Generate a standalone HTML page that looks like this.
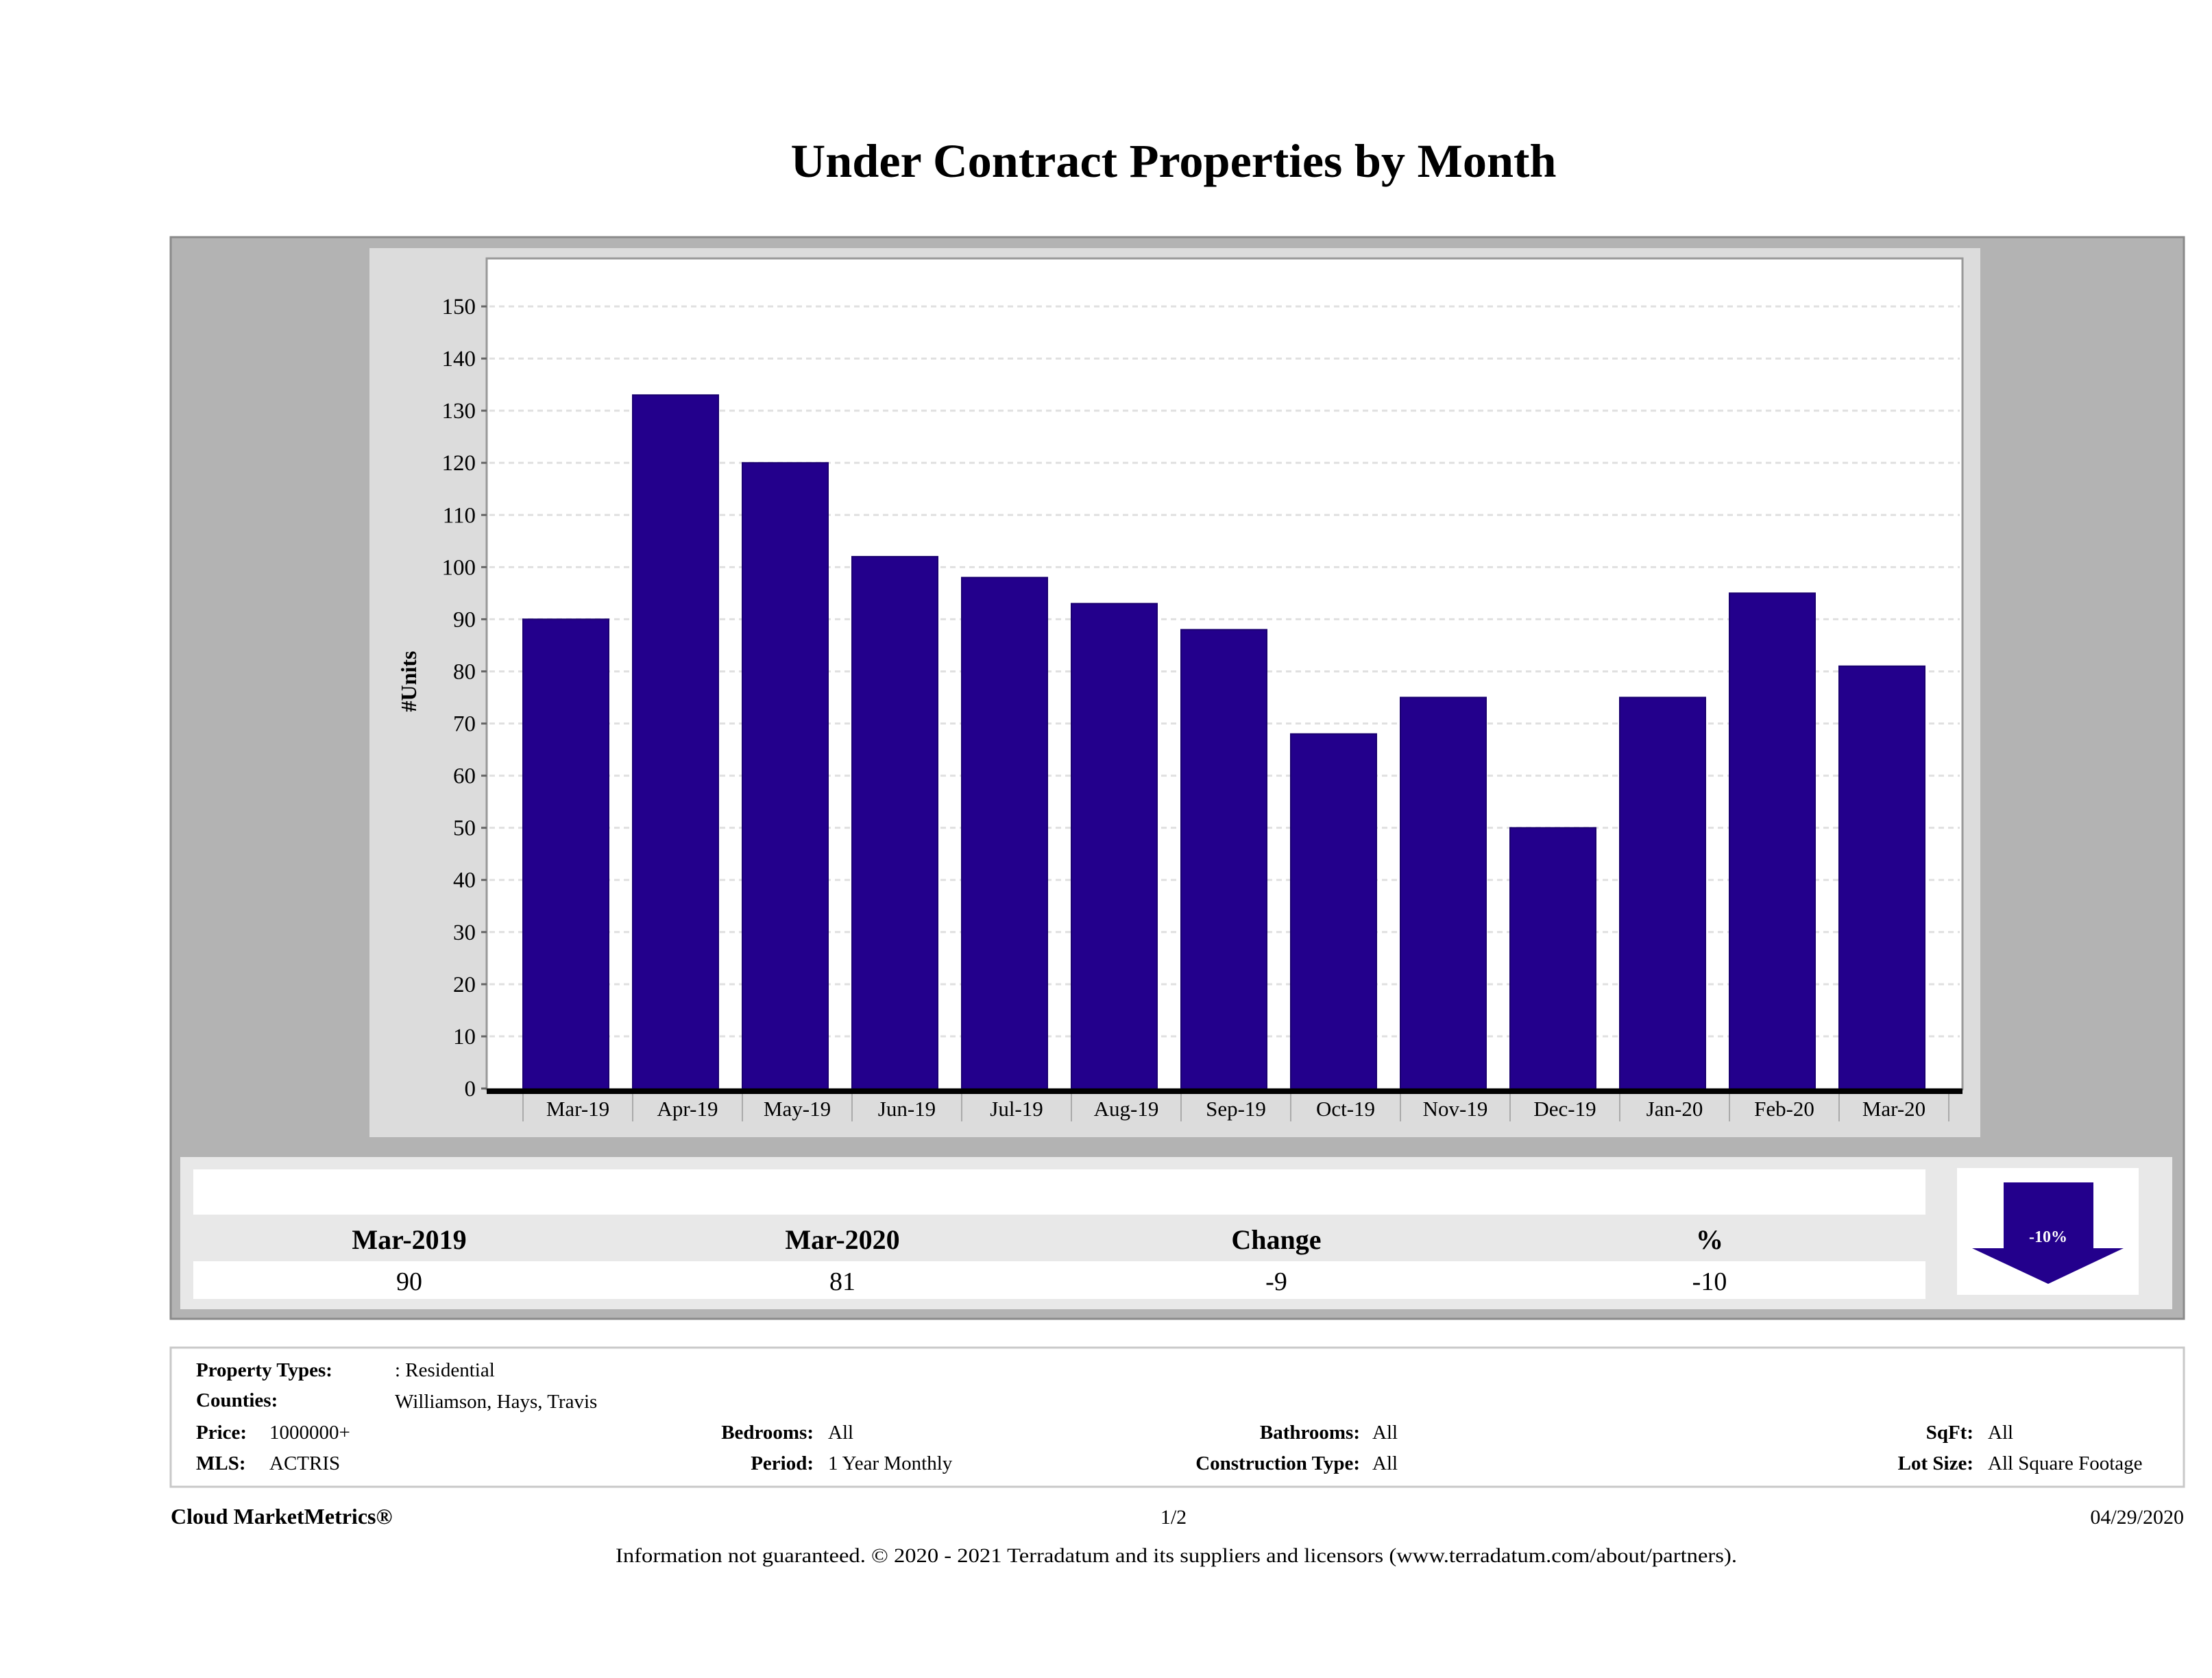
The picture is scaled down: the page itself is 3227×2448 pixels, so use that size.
<!DOCTYPE html>
<html><head><meta charset="utf-8"><style>
html,body{margin:0;padding:0;background:#fff;}
svg{display:block;font-family:"Liberation Serif",serif;}
</style></head><body>
<svg id="page" width="3227" height="2448" viewBox="0 0 3227 2448" xmlns="http://www.w3.org/2000/svg">
<text x="1712" y="258" font-size="69" font-weight="bold" text-anchor="middle" textLength="1117" lengthAdjust="spacingAndGlyphs" fill="#000">Under Contract Properties by Month</text>
<rect x="249" y="346" width="2937" height="1578" fill="#b3b3b3" stroke="#8a8a8a" stroke-width="3"/>
<rect x="539" y="362" width="2350" height="1297" fill="#dcdcdc"/>
<rect x="710" y="377" width="2153" height="1212" fill="#fff" stroke="#999" stroke-width="3"/>
<g id="grid"></g>
<g id="bars"></g>
<g id="yaxis"></g>
<g id="xaxis"></g>
<text transform="translate(607,994) rotate(-90)" font-size="32" font-weight="bold" text-anchor="middle">#Units</text>

<rect x="263" y="1688" width="2906" height="222" fill="#e8e8e8"/>
<rect x="282" y="1706" width="2527" height="66" fill="#fff"/>
<rect x="282" y="1840" width="2527" height="55" fill="#fff"/>
<g font-size="40" font-weight="bold" text-anchor="middle">
<text x="597" y="1822">Mar-2019</text>
<text x="1229" y="1822">Mar-2020</text>
<text x="1862" y="1822">Change</text>
<text x="2494" y="1822">%</text>
</g>
<g font-size="38" text-anchor="middle">
<text x="597" y="1882">90</text>
<text x="1229" y="1882">81</text>
<text x="1862" y="1882">-9</text>
<text x="2494" y="1882">-10</text>
</g>
<rect x="2855" y="1704" width="265" height="185" fill="#fff"/>
<polygon points="2923,1725 3054,1725 3054,1821 3098,1821 2988,1873 2877,1821 2923,1821" fill="#23008c"/>
<text x="2988" y="1812" font-size="24" font-weight="bold" fill="#fff" text-anchor="middle">-10%</text>

<rect x="249" y="1966" width="2937" height="203" fill="#fff" stroke="#c8c8c8" stroke-width="3"/>
<g font-size="29">
<text x="286" y="2008" font-weight="bold">Property Types:</text>
<text x="576" y="2008">: Residential</text>
<text x="286" y="2052" font-weight="bold">Counties:</text>
<text x="576" y="2054">Williamson, Hays, Travis</text>
<text x="286" y="2099" font-weight="bold">Price:</text>
<text x="393" y="2099">1000000+</text>
<text x="286" y="2144" font-weight="bold">MLS:</text>
<text x="393" y="2144">ACTRIS</text>
<text x="1187" y="2099" font-weight="bold" text-anchor="end">Bedrooms:</text>
<text x="1208" y="2099">All</text>
<text x="1187" y="2144" font-weight="bold" text-anchor="end">Period:</text>
<text x="1208" y="2144">1 Year Monthly</text>
<text x="1984" y="2099" font-weight="bold" text-anchor="end">Bathrooms:</text>
<text x="2002" y="2099">All</text>
<text x="1984" y="2144" font-weight="bold" text-anchor="end">Construction Type:</text>
<text x="2002" y="2144">All</text>
<text x="2879" y="2099" font-weight="bold" text-anchor="end">SqFt:</text>
<text x="2900" y="2099">All</text>
<text x="2879" y="2144" font-weight="bold" text-anchor="end">Lot Size:</text>
<text x="2900" y="2144">All Square Footage</text>
</g>
<text x="249" y="2223" font-size="32" font-weight="bold">Cloud MarketMetrics®</text>
<text x="1712" y="2223" font-size="30" text-anchor="middle">1/2</text>
<text x="3186" y="2223" font-size="30" text-anchor="end">04/29/2020</text>
<text x="1716" y="2279" font-size="30" text-anchor="middle" textLength="1636" lengthAdjust="spacingAndGlyphs">Information not guaranteed. © 2020 - 2021 Terradatum and its suppliers and licensors (www.terradatum.com/about/partners).</text>
</svg>
<script>
const categories = ["Mar-19","Apr-19","May-19","Jun-19","Jul-19","Aug-19","Sep-19","Oct-19","Nov-19","Dec-19","Jan-20","Feb-20","Mar-20"];
const values = [90,133,120,102,98,93,88,68,75,50,75,95,81];
const yTicks = [0,10,20,30,40,50,60,70,80,90,100,110,120,130,140,150];

const NS = "http://www.w3.org/2000/svg";
const plotL = 710, plotR = 2863, y0 = 1588, yMax = 150, y150 = 447;
const bandStart = 763, bandW = 160, barW = 125;
function yScale(v){ return y0 - (v / yMax) * (y0 - y150); }
function xBand(i){ return bandStart + i * bandW; }
function mk(tag, attrs, parent){ const e = document.createElementNS(NS, tag); for (const k in attrs) e.setAttribute(k, attrs[k]); parent.appendChild(e); return e; }

const grid = document.getElementById('grid'), yax = document.getElementById('yaxis');
yTicks.forEach(t => {
  const y = yScale(t);
  if (t > 0) {
    const g = mk('line', {x1: plotL + 4, x2: plotR - 4, y1: y, y2: y, stroke: '#e0e0e0', 'stroke-width': 3, 'stroke-dasharray': '8,6'}, grid);
    
    
  }
  const tk = mk('line', {x1: plotL - 8, x2: plotL, y1: y, y2: y, stroke: '#666', 'stroke-width': 3}, yax);
  
  
  const lb = mk('text', {x: plotL - 16, y: y + 11, 'font-size': 33, 'text-anchor': 'end'}, yax);
  lb.textContent = t;
  
  
});

const bars = document.getElementById('bars'), xax = document.getElementById('xaxis');
values.forEach((v, i) => {
  const x = xBand(i), y = yScale(v);
  const b = mk('rect', {x: x, y: y, width: barW, height: y0 - y, fill: '#23008c', stroke: '#1a0070', 'stroke-width': 2}, bars);
  
  
});
const axis = mk('rect', {x: plotL, y: y0, width: plotR - plotL, height: 8, fill: '#000'}, xax);


for (let i = 0; i <= categories.length; i++) {
  const s = mk('line', {x1: xBand(i), x2: xBand(i), y1: y0 + 8, y2: y0 + 48, stroke: '#aaa', 'stroke-width': 2}, xax);
  
  
}
categories.forEach((c, i) => {
  const t = mk('text', {x: xBand(i) + bandW / 2, y: y0 + 40, 'font-size': 31, 'text-anchor': 'middle'}, xax);
  t.textContent = c;
  
  
});
</script>
</body></html>
